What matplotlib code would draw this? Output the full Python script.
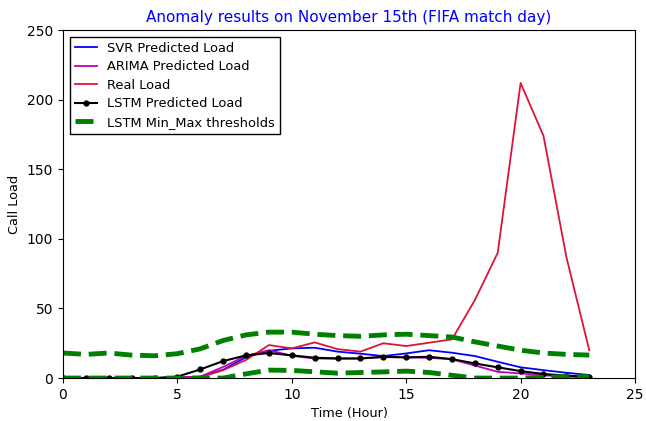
import matplotlib
matplotlib.use("Agg")
import matplotlib.pyplot as plt

# hourly call load on the match day
hours = list(range(24))
svr_pred = [0, 0, 0, 0, 0, 0.5, 1, 6, 15, 19.6, 21.3, 21.8, 19, 17.5, 15.8, 17.7, 20, 18.2, 15.8, 11.7, 7.7, 5.7, 3.8, 2.2]
arima_pred = [0, 0, 0, 0, 0, 0.5, 1, 8, 16, 20, 16, 14, 14, 14, 15, 15, 14.5, 13.5, 9, 4.5, 3.3, 2, 1, 0.5]
real_load = [0, 0, 0, 0, 0, 0, 0.5, 5.7, 13, 23.7, 21.3, 25.6, 20.8, 19, 25, 23, 25.4, 27.8, 56, 90, 212, 174, 87, 20]
lstm_pred = [0, 0, 0, 0, 0, 1, 6.2, 12.2, 16.3, 18, 16.3, 14.6, 14.1, 14.1, 15.3, 14.8, 15.3, 13.6, 10.5, 7.7, 5, 2.9, 1.7, 1]
lstm_max = [18, 17, 18, 16.5, 16, 17.5, 21, 27, 31, 33, 33, 31.5, 30.5, 30, 31, 31.5, 30.5, 29.5, 26, 23, 20, 18, 17, 16.5]
lstm_min = [0, 0, 0, 0, 0, 0, 0, 0, 3, 5.7, 5.5, 4.5, 3.5, 4, 4.4, 5, 4, 2, 0, 0, 0, 0.5, 1, 1]

fig = plt.figure(figsize=(6.46, 4.21), dpi=100)
ax = fig.add_axes([0.0975, 0.102, 0.8855, 0.8265])

ax.plot(hours, svr_pred, color="blue", lw=1.3, label="SVR Predicted Load")
ax.plot(hours, arima_pred, color="m", lw=1.3, label="ARIMA Predicted Load")
ax.plot(hours, real_load, color="crimson", lw=1.3, label="Real Load")
ax.plot(hours, lstm_pred, color="black", lw=1.5, marker=".", markersize=7, label="LSTM Predicted Load")
ax.plot(hours, lstm_max, color="green", lw=3.5, ls="--", label="LSTM Min_Max thresholds")
ax.plot(hours, lstm_min, color="green", lw=3.5, ls="--")

ax.set_xlim(0, 25)
ax.set_ylim(0, 250)
ax.set_xticks([0, 5, 10, 15, 20, 25])
ax.set_yticks([0, 50, 100, 150, 200, 250])
ax.tick_params(labelsize=10)
ax.set_xlabel("Time (Hour)", fontsize=9.3)
ax.set_ylabel("Call Load", fontsize=9.3)
ax.set_title("Anomaly results on November 15th (FIFA match day)", color="blue", fontsize=11)

leg = ax.legend(loc="upper left", fancybox=False, edgecolor="black", framealpha=1,
                fontsize=9.4, handlelength=1.7, labelspacing=0.42)

fig.savefig("out.png", dpi=100)
